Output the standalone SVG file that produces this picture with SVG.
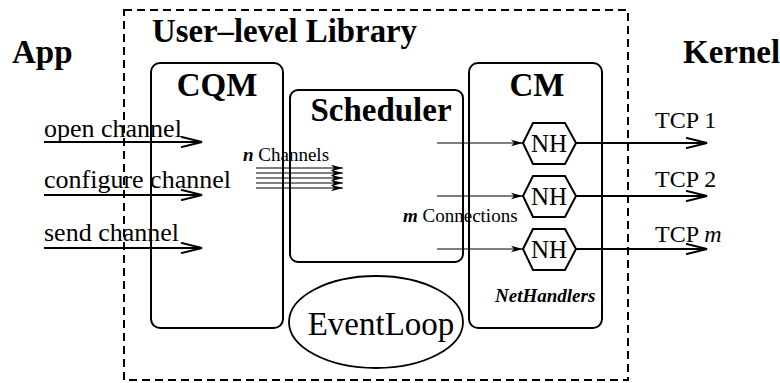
<svg xmlns="http://www.w3.org/2000/svg" width="780" height="383" viewBox="0 0 780 383">
<style>
text{font-family:"Liberation Serif","Times New Roman",serif;fill:#000}
.h{font-size:33px;font-weight:bold}
.lbl{font-size:26px}
.tcp{font-size:24px}
.sm{font-size:19px}
.nh{font-size:25px}
.box{fill:none;stroke:#000;stroke-width:2}
.thick{stroke:#000;stroke-width:2;fill:none}
.thin{stroke:#000;stroke-width:1.2;fill:none}
</style>
<defs>
<marker id="open" viewBox="0 0 24 12" refX="22" refY="6" markerWidth="24" markerHeight="12" markerUnits="userSpaceOnUse" orient="auto">
<path d="M1,0.8 L22,6 L1,11.2" fill="none" stroke="#000" stroke-width="2"/>
</marker>
<marker id="fill" viewBox="0 0 12 8" refX="12" refY="4" markerWidth="12" markerHeight="8" markerUnits="userSpaceOnUse" orient="auto">
<path d="M0,0.8 L12,4 L0,7.2 L3,4 Z" fill="#000"/>
</marker>
</defs>

<g id="library">
<rect x="124" y="10" width="504" height="370" fill="none" stroke="#000" stroke-width="2" stroke-dasharray="8,5"/>
<text class="h" x="152" y="42" textLength="265" lengthAdjust="spacingAndGlyphs">User–level Library</text>
</g>
<g id="app"><text class="h" x="12" y="63">App</text></g>
<g id="kernel"><text class="h" x="683" y="63">Kernel</text></g>

<g id="cqm">
<rect class="box" x="151" y="63" width="132" height="265" rx="9"/>
<text class="h" x="217" y="96" text-anchor="middle">CQM</text>
</g>
<g id="scheduler">
<rect class="box" x="290" y="90" width="173" height="172" rx="8"/>
<text class="h" x="381" y="121" text-anchor="middle">Scheduler</text>
</g>
<g id="cm">
<rect class="box" x="469" y="63" width="133" height="265" rx="9"/>
<text class="h" x="537" y="96" text-anchor="middle">CM</text>
<text class="sm" x="495" y="302" font-style="italic" font-weight="bold">NetHandlers</text>
</g>
<g id="eventloop">
<ellipse cx="376" cy="322" rx="87" ry="46" fill="none" stroke="#000" stroke-width="1.8"/>
<text x="381" y="335" font-size="33" text-anchor="middle">EventLoop</text>
</g>
<g id="nh1">
<polygon class="box" points="523,143 533,123 565,123 576,143 565,164 533,164"/>
<text class="nh" x="549" y="152" text-anchor="middle">NH</text>
</g>
<g id="nh2">
<polygon class="box" points="523,196 533,176 565,176 576,196 565,217 533,217"/>
<text class="nh" x="549" y="205" text-anchor="middle">NH</text>
</g>
<g id="nh3">
<polygon class="box" points="523,249 533,229 565,229 576,249 565,270 533,270"/>
<text class="nh" x="549" y="258" text-anchor="middle">NH</text>
</g>

<g id="connectors">
<line class="thick" x1="44" y1="142" x2="202" y2="142" marker-end="url(#open)"/>
<line class="thick" x1="44" y1="195" x2="202" y2="195" marker-end="url(#open)"/>
<line class="thick" x1="44" y1="248" x2="202" y2="248" marker-end="url(#open)"/>
<text class="lbl" x="44" y="137">open channel</text>
<text class="lbl" x="44" y="188">configure channel</text>
<text class="lbl" x="44" y="241">send channel</text>

<line class="thin" x1="256" y1="168" x2="343" y2="168" marker-end="url(#fill)"/>
<line class="thin" x1="256" y1="173" x2="343" y2="173" marker-end="url(#fill)"/>
<line class="thin" x1="256" y1="178" x2="343" y2="178" marker-end="url(#fill)"/>
<line class="thin" x1="256" y1="183" x2="343" y2="183" marker-end="url(#fill)"/>
<line class="thin" x1="256" y1="188" x2="343" y2="188" marker-end="url(#fill)"/>
<text class="sm" x="243" y="161"><tspan font-style="italic" font-weight="bold">n</tspan> Channels</text>

<line class="thin" x1="437" y1="143" x2="523" y2="143" marker-end="url(#fill)"/>
<line class="thin" x1="437" y1="196" x2="523" y2="196" marker-end="url(#fill)"/>
<line class="thin" x1="437" y1="249" x2="523" y2="249" marker-end="url(#fill)"/>
<text class="sm" x="403" y="222"><tspan font-style="italic" font-weight="bold">m</tspan> Connections</text>

<line class="thick" x1="576" y1="143" x2="707" y2="143" marker-end="url(#open)"/>
<line class="thick" x1="576" y1="196" x2="707" y2="196" marker-end="url(#open)"/>
<line class="thick" x1="576" y1="249" x2="707" y2="249" marker-end="url(#open)"/>
<text class="tcp" x="655" y="128">TCP 1</text>
<text class="tcp" x="655" y="187">TCP 2</text>
<text class="tcp" x="655" y="242">TCP <tspan font-style="italic">m</tspan></text>
</g>
</svg>
